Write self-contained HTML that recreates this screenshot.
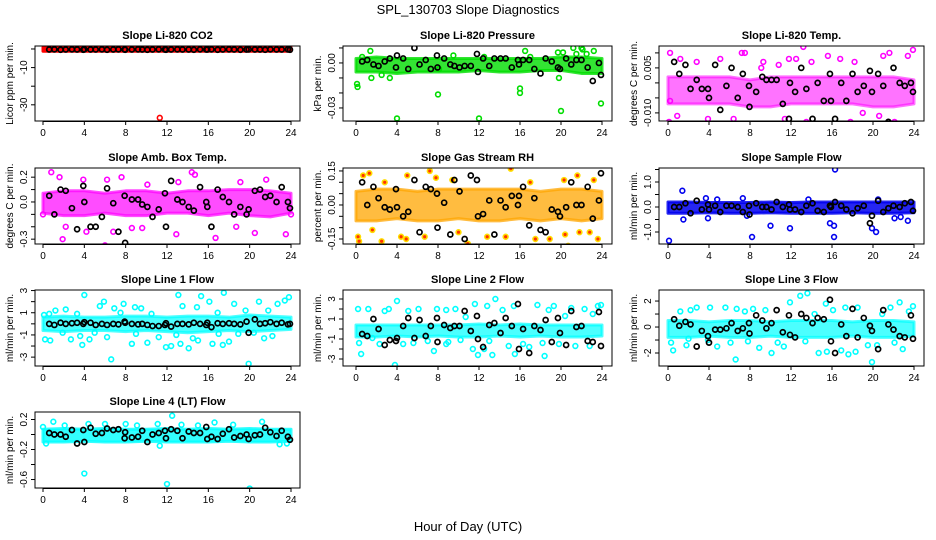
<!DOCTYPE html>
<html><head><meta charset="utf-8">
<style>
html,body{margin:0;padding:0;background:#fff;}
svg{display:block;font-family:"Liberation Sans",Arial,sans-serif;}
</style></head>
<body>
<svg id="chart" width="936" height="540" viewBox="0 0 936 540" xmlns="http://www.w3.org/2000/svg">
<defs>
<pattern id="tex" width="4" height="4" patternUnits="userSpaceOnUse"><rect width="4" height="4" fill="#fff"/><rect width="3" height="3" fill="#000"/></pattern>
</defs>
<text x="468" y="14" text-anchor="middle" font-size="13">SPL_130703  Slope Diagnostics</text>
<text x="468" y="531" text-anchor="middle" font-size="13">Hour of Day (UTC)</text>
</svg>
<script>
// shared x data
const xTicks = [0,4,8,12,16,20,24];
const bandHours = [0,2,4,6,8,10,12,14,16,18,20,22,24];
const blackHours = [0.6,1.1,1.7,2.2,2.8,3.3,3.9,4.0,4.6,5.1,5.7,6.2,6.8,7.3,7.9,7.95,8.6,9.2,9.6,10.1,10.6,11.2,11.8,11.9,12.4,13.0,13.5,14.1,14.6,15.2,15.8,15.9,16.3,16.9,17.4,18.0,18.5,19.1,19.7,19.9,20.5,21.0,21.5,22.0,22.6,23.1,23.7,23.9];

// panel titles / y labels
const panelTitles = ["Slope Li-820 CO2","Slope Li-820 Pressure","Slope Li-820 Temp.","Slope Amb. Box Temp.","Slope Gas Stream RH","Slope Sample Flow","Slope Line 1 Flow","Slope Line 2 Flow","Slope Line 3 Flow","Slope Line 4 (LT) Flow"];
const yTitles = ["Licor ppm per min.","kPa per min.","degrees C per min.","degrees C per min.","percent per min.","ml/min per min.","ml/min per min.","ml/min per min.","ml/min per min.","ml/min per min."];
const seriesColors = ["#ff0000","#00dd00","#ff00ff","#ff00ff","#ffa500","#0000ee","#00ffff","#00ffff","#00ffff","#00ffff"];
const bandOpacity = [1,0.8,0.55,0.7,0.75,0.85,0.7,0.7,0.7,0.8];

// y ticks & labels
const yTicks = [[0,-10,-20,-30],[0.01,0,-0.01,-0.02,-0.03],[0.01,0.005,0,-0.005,-0.01],[0.2,0.1,0,-0.1,-0.2,-0.3],[0.15,0.1,0.05,0,-0.05,-0.1,-0.15],[1.5,1,0.5,0,-0.5,-1],[3,2,1,0,-1,-2,-3],[3,2,1,0,-1,-2,-3],[2,1,0,-1,-2],[0.2,0,-0.2,-0.4,-0.6]];
const yTickLabels = [["","-10","","-30"],["","0.00","","","-0.03"],["","0.005","","","-0.010"],["0.2","","0.0","","","-0.3"],["0.15","","","0.00","","","-0.15"],["","1.0","","0.0","","-1.0"],["3","","1","","-1","","-3"],["3","","1","","-1","","-3"],["2","","0","","-2"],["0.2","","-0.2","","-0.6"]];
const yDomains = [[-38.7,1.6],[-0.0387,0.0113],[-0.0127,0.0123],[-0.339,0.274],[-0.172,0.163],[-1.48,1.56],[-3.8,3.05],[-3.7,3.9],[-3.0,2.85],[-0.713,0.3]];

// dense band envelopes (at bandHours)
const bandLow = [
 [-1.2,-1.2,-1.2,-1.2,-1.2,-1.2,-1.2,-1.2,-1.2,-1.2,-1.2,-1.2,-1.2],
 [-.006,-.006,-.007,-.006,-.006,-.006,-.005,-.006,-.006,-.005,-.005,-.007,-.007],
 [-.007,-.007,-.007,-.007,-.008,-.008,-.007,-.007,-.007,-.007,-.008,-.008,-.007],
 [-.09,-.11,-.11,-.09,-.11,-.11,-.09,-.09,-.11,-.09,-.11,-.12,-.09],
 [-.07,-.07,-.06,-.07,-.07,-.06,-.07,-.07,-.06,-.07,-.06,-.07,-.06],
 [-.25,-.25,-.23,-.25,-.25,-.23,-.25,-.25,-.25,-.23,-.25,-.25,-.23],
 [-.6,-.7,-.6,-.6,-.7,-.6,-.7,-.8,-.7,-.6,-.7,-.6,-.5],
 [-.8,-.8,-.7,-.8,-.7,-.8,-.8,-.7,-.8,-.7,-.8,-.8,-.7],
 [-.8,-.8,-.7,-.8,-.8,-.7,-.8,-.8,-.8,-.7,-.8,-.8,-.7],
 [-.1,-.1,-.09,-.1,-.1,-.09,-.1,-.1,-.1,-.09,-.1,-.1,-.09]];
const bandHigh = [
 [0.8,0.8,0.8,0.8,0.8,0.8,0.8,0.8,0.8,0.8,0.8,0.8,0.8],
 [.003,.004,.003,.003,.003,.003,.003,.003,.003,.003,.004,.004,.003],
 [.002,.002,.002,.002,.001,.002,.002,.002,.002,.002,.002,.002,.001],
 [.07,.09,.09,.07,.09,.09,.07,.09,.09,.1,.1,.09,.07],
 [.06,.07,.07,.06,.07,.07,.07,.07,.07,.06,.07,.07,.06],
 [.2,.2,.18,.18,.18,.2,.18,.2,.2,.2,.2,.2,.2],
 [.6,.7,.6,.6,.7,.7,.6,.7,.7,.6,.8,.7,.6],
 [.4,.4,.4,.4,.4,.4,.5,.4,.5,.4,.4,.4,.4],
 [.5,.5,.4,.5,.5,.4,.5,.5,.5,.4,.5,.5,.4],
 [.07,.08,.07,.08,.07,.07,.08,.07,.08,.07,.08,.07,.07]];

// colored outliers
const outX = [
 [11.3],
 [0.1,0.15,1.4,1.5,3.3,4.0,8.0,8.1,12.0,16.0,16.0,16.5,17.0,19.7,19.8,20.0,20.2,21.2,22.0,22.1,23.2,23.9,0.6,12.5,21.5,22.5,2.5,9.5],
 [0.1,0.2,0.2,0.9,1.2,2.8,3.9,5.1,5.6,5.9,6.4,7.2,7.5,9.3,11.4,11.8,12.2,12.5,13.2,13.5,14.8,15.6,16.8,17.8,19.0,20.6,21.0,21.6,22.1,23.1,23.4,23.9,9.1,10.8,14.0,18.2],
 [0.8,1.6,1.9,2.2,3.9,4.2,6.0,6.2,6.8,7.6,8.6,9.6,12.9,14.4,14.7,16.7,18.7,20.5,21.2,21.6,23.5,24.0,0.0,10.1,13.1,19.1],
 [0.2,0.3,0.7,1.3,1.6,2.5,2.8,4.4,4.9,5.0,6.7,7.2,7.8,9.4,10.0,10.9,12.8,14.6,15.1,17.0,17.5,18.9,20.3,20.4,21.6,21.8,22.8,23.6,23.2,20.7],
 [0.1,1.4,1.5,3.9,7.7,8.2,10.0,11.9,15.8,16.2,16.2,16.3,19.9,20.3,22.1,22.7,23.4,7.3,4.8,3.7,20.5,13.7],
 [0.1,0.2,0.6,0.7,1.2,1.9,2.2,2.7,3.3,3.6,3.8,4.0,4.5,5.0,5.5,5.9,6.2,6.6,6.9,7.5,7.8,8.6,8.9,9.5,10.1,10.5,11.2,11.9,12.4,13.1,13.3,13.5,14.1,14.5,14.9,15.3,16.1,16.4,16.9,17.4,17.5,18.0,18.5,18.9,19.6,19.9,20.4,20.9,21.4,21.8,22.2,22.7,23.4,23.8,9.0,12.9,15.0,17.0],
 [0.2,0.3,0.5,1.2,1.6,2.3,2.8,3.2,3.8,4.0,4.6,5.1,5.6,6.1,7.0,7.6,7.9,8.8,8.8,9.7,10.2,10.7,11.4,11.6,11.9,12.5,12.8,13.3,13.6,14.3,14.9,15.4,15.5,16.3,16.9,17.7,18.2,18.4,18.8,19.3,19.8,20.4,21.0,21.4,22.3,22.8,23.1,23.6,23.9,13.0,9.0],
 [0.3,0.5,1.2,1.8,2.2,2.8,3.9,4.1,4.8,5.6,6.1,6.6,6.7,7.5,8.3,8.9,9.5,10.1,10.7,11.3,11.9,12.9,13.6,14.3,14.7,15.4,15.5,16.1,16.9,17.3,17.6,18.3,18.5,19.5,19.9,20.4,20.9,21.7,22.1,22.6,22.9,23.5,23.9,13.4,7.8,2.0],
 [0,0.3,1.0,2.1,4.0,4.4,6.0,8.0,11.1,11.3,12.0,12.5,13.4,16.6,18.4,20.0,21.2,22.9,23.6,9.1,15.0]];
const outY = [
 [-37],
 [-.014,-.016,.008,-.010,-.010,-.037,-.021,-.004,-.037,-.017,-.020,.008,.004,.007,-.010,-.032,.007,.010,.010,.009,.008,-.027,.004,.004,.006,.006,-.008,.005],
 [-.013,.010,-.006,-.011,.008,.007,-.012,.008,-.015,-.017,-.012,.010,.010,.007,-.012,.008,-.014,.008,.012,-.013,-.016,.009,.008,-.013,-.010,-.011,.009,.010,-.013,-.014,.009,.011,.005,.006,.007,.007],
 [.24,.2,-.3,-.2,.18,-.24,-.35,.18,-.24,.2,-.21,-.21,-.26,.24,.22,-.29,-.2,-.25,.34,.18,-.26,-.1,-.1,.14,.16,.16],
 [-.14,-.16,.13,.14,-.11,-.16,.1,-.14,-.15,.13,-.14,.15,.12,.11,-.12,-.17,-.14,-.14,.16,.1,-.15,-.15,.11,-.13,.13,-.12,-.12,-.15,.11,-.18],
 [-1.35,.65,-.5,-.45,-.35,-1.2,-.75,-.85,-.65,-.75,-1.2,1.5,-.85,-1.0,-.45,-.4,-.55,.35,.3,.35,.3,.3],
 [.8,-1.4,.9,-1.5,1.2,-.8,1.3,-1.4,.9,-1.1,-1.9,2.6,-1.4,-.8,1.6,2.0,-1.2,-3.2,1.4,1.0,1.8,-1.8,1.5,1.4,-1.7,.9,-1.2,-2.1,-2.0,2.6,-1.8,1.6,-2.2,-1.3,1.5,2.5,2.0,-1.8,1.0,-1.9,2.8,-1.6,1.8,-.9,1.2,-3.6,-.8,2.0,-1.3,1.2,-1.1,1.8,2.1,2.4,-.9,-1.0,-1.5,-.9],
 [2.0,-1.4,-2.5,2.0,-.9,-1.5,1.8,2.0,-3.6,2.8,-1.5,1.8,-1.4,2.0,-1.2,-2.2,2.0,1.9,-1.5,2.0,-1.1,1.2,-2.0,2.5,-2.6,-2.0,2.3,-2.6,3.0,1.9,-1.7,2.3,-2.5,-1.5,-1.8,2.4,-1.4,-2.7,1.9,2.3,-1.5,1.3,2.1,-1.7,2.0,-1.7,1.5,2.3,2.4,-1.2,-1.3],
 [-1.2,-1.8,1.2,-1.4,1.3,1.5,-1.0,1.5,-1.5,1.5,-1.2,-2.5,1.4,1.2,1.4,-1.6,1.3,-2.0,-1.2,-1.5,1.9,2.4,2.6,1.0,-2.0,1.8,-1.9,1.3,-1.8,1.5,-2.1,-1.9,1.5,-1.4,-2.7,-1.4,1.0,1.5,-1.2,1.9,-1.7,1.2,1.6,-1.1,-1.1,-.9],
 [.1,-.12,.17,.12,-.52,.14,.14,.14,.14,-.15,-.66,.25,.13,.16,.13,-.72,.17,-.13,-.12,.12,.12]];

// black series values (at blackHours)
const blackY = [
 [-.3,-.2,-.4,-.3,-.2,-.3,-.4,-.2,-.3,-.3,-.2,-.4,-.3,-.2,-.3,-.4,-.3,-.2,-.3,-.4,-.3,-.2,-.3,-.4,-.3,-.2,-.3,-.3,-.4,-.2,-.3,-.3,-.2,-.4,-.3,-.2,-.3,-.4,-.3,-.2,-.3,-.3,-.4,-.2,-.3,-.3,-.2,-.4],
 [.001,.002,-.001,-.002,.001,.003,-.003,.005,.003,-.004,.010,-.001,.002,-.004,.005,-.003,.003,-.001,-.002,-.003,-.002,-.002,.006,-.006,.003,-.002,.003,.003,.003,-.003,.002,-.001,.002,.002,-.004,-.007,.003,.001,-.003,-.004,.003,-.001,.002,.002,-.003,-.012,.000,-.008],
 [.007,.003,.006,-.002,.001,-.002,-.002,-.005,.006,-.009,-.001,.005,-.005,.003,-.001,-.008,-.003,.002,.001,.001,.001,-.007,-.012,.000,-.003,.005,-.002,-.012,.000,-.006,.003,-.006,-.012,.000,-.006,.003,-.003,-.001,.004,-.003,.003,-.001,-.013,.005,.000,-.001,.000,-.003],
 [.05,-.1,.1,.09,-.05,-.22,.13,0,-.2,-.2,-.12,.11,-.01,-.24,.05,-.33,.02,.02,-.02,-.04,-.12,-.06,.07,-.2,.17,.02,0,-.04,-.07,.12,0,-.04,-.2,.1,.04,0,-.1,-.04,-.1,-.06,.09,.1,.04,.05,0,.12,0,-.05],
 [.1,0,.08,.03,-.01,-.02,.07,-.01,-.05,-.03,.11,-.12,.08,.07,.05,-.1,.01,-.13,.11,.06,-.15,.13,.11,-.05,-.04,.02,-.13,.02,-.01,.04,0,.04,.08,-.09,.03,-.11,-.12,-.02,-.03,-.05,-.01,.1,0,0,.08,-.06,.02,.14],
 [0,0,.15,-.25,.25,-.1,.1,-.1,.05,-.2,.05,.05,0,-.2,.05,-.3,.15,0,0,-.1,.2,0,.1,-.1,-.1,-.2,.05,.15,-.15,-.2,.05,0,.2,.05,-.1,-.25,-.05,.05,-.65,-.35,.25,-.2,-.05,.05,0,.15,.2,-.15],
 [0,-.1,.1,0,.05,.1,0,.15,.1,-.1,0,-.1,0,-.05,.2,.1,0,-.05,0,-.1,-.2,-.2,-.1,.05,-.25,0,0,-.05,.1,0,-.1,.1,-.3,.05,0,.05,0,-.05,.2,-.8,.4,0,.05,.15,0,.1,-.05,0],
 [-.5,-.7,1.0,0,-1.6,-1.1,-1.2,-.9,.3,1.1,-.9,.9,-.7,.3,1.1,-1.3,.4,.1,.3,.3,1.8,-.2,1.3,-1.0,-1.8,.4,.6,-.4,1.1,.3,2.5,-2.0,0,-2.4,.3,-.1,.9,-1.3,1.1,-.4,-1.6,1.8,.2,.3,-1.2,-1.3,1.7,-1.7],
 [.6,.1,.4,.2,-1.5,-.3,-.7,-1.2,-.2,-.2,-.1,.3,-.3,-.1,.3,-.5,.9,.5,-.1,.3,1.3,-.4,.9,-.6,-.8,1.0,.7,.3,.7,.6,2.1,-1.1,-2.0,.2,-.7,1.4,-.8,.7,.1,-.3,-1.7,1.3,.2,-.2,-.7,-.8,.9,-.9],
 [.02,0,0,-.03,.06,-.12,.06,-.1,.09,.01,.02,.08,.06,.07,-.05,.03,-.04,-.03,.05,-.1,0,.02,.05,-.05,.07,.05,-.05,.04,.02,.02,.1,-.06,-.03,-.06,.01,.07,-.04,-.02,0,-.06,-.01,0,.09,.03,-.02,.05,-.03,-.07]];

const NS = "http://www.w3.org/2000/svg";
const svg = document.getElementById('chart');
const colBox = [[35,300],[343,612],[659,924]];
const colX0 = [43,356,668];
const colX24 = [291,602,914];
const rowBox = [[46,121],[168,244],[290,366],[412,488]];

function mk(tag, attrs, parent){
  const e = document.createElementNS(NS, tag);
  for (const k in attrs) e.setAttribute(k, attrs[k]);
  (parent||svg).appendChild(e);
  return e;
}

for (let p = 0; p < 10; p++) {
  const c = p % 3, r = Math.floor(p / 3);
  const [L, R] = colBox[c], [T, B] = rowBox[r];
  const xs = h => colX0[c] + (colX24[c] - colX0[c]) * h / 24;
  const [ymin, ymax] = yDomains[p];
  const ys = v => B - (v - ymin) / (ymax - ymin) * (B - T);
  const g = mk('g', {});
  
  
  const clip = mk('clipPath', {id: 'clip' + p}, g);
  mk('rect', {x: L, y: T, width: R - L, height: B - T}, clip);
  const plot = mk('g', {'clip-path': 'url(#clip' + p + ')'}, g);
  
  
  const col = seriesColors[p];
  // dense band
  let pts = bandHours.map((h,i) => xs(h) + ',' + ys(bandHigh[p][i]));
  pts = pts.concat(bandHours.slice().reverse().map((h,i) => xs(h) + ',' + ys(bandLow[p][bandHours.length-1-i])));
  const band = mk('polygon', {points: pts.join(' '), fill: col, 'fill-opacity': bandOpacity[p], stroke: col, 'stroke-opacity': bandOpacity[p], 'stroke-width': 3, 'stroke-linejoin': 'round'}, plot);
  
  
  // outliers
  outX[p].forEach((h, i) => {
    const ci = mk('circle', {cx: xs(h), cy: ys(outY[p][i]), r: 2.4, fill: p===4 ? '#ff3300' : 'none', stroke: p===4 ? '#ffdd00' : col, 'stroke-width': 1.6}, plot);
    
    
  });
  // black series
  blackHours.forEach((h, i) => {
    const ci = mk('circle', {cx: xs(h), cy: ys(blackY[p][i]), r: 2.5, fill: 'none', stroke: '#000', 'stroke-width': 1.7}, plot);
    
    
  });
  // frame
  const fr = mk('rect', {x: L, y: T, width: R - L, height: B - T, fill: 'none', stroke: '#000', 'stroke-width': 1}, g);
  
  
  // title
  const tt = mk('text', {x: (L + R) / 2, y: T - 7, 'text-anchor': 'middle', 'font-size': 11, 'font-weight': 'bold'}, g);
  tt.textContent = panelTitles[p];
  
  
  // x axis
  mk('line', {x1: colX0[c], x2: colX24[c], y1: B + 0.5, y2: B + 0.5, stroke: '#000'}, g);
  xTicks.forEach(t => {
    const x = xs(t);
    mk('line', {x1: x, x2: x, y1: B, y2: B + 4, stroke: '#000'}, g);
    const tl = mk('text', {x: x, y: B + 15, 'text-anchor': 'middle', 'font-size': 10}, g);
    tl.textContent = t;
    
    
  });
  // y axis
  yTicks[p].forEach((t, i) => {
    const y = ys(t);
    mk('line', {x1: L - 4, x2: L, y1: y, y2: y, stroke: '#000'}, g);
    if (yTickLabels[p][i]) {
      const tl = mk('text', {x: 0, y: 0, 'text-anchor': 'middle', 'font-size': 10, transform: 'translate(' + (L - 8) + ',' + y + ') rotate(-90)'}, g);
      tl.textContent = yTickLabels[p][i];
      
      
    }
  });
  const yt = mk('text', {x: 0, y: 0, 'text-anchor': 'middle', 'font-size': 10, transform: 'translate(' + (L - 22) + ',' + ((T + B) / 2) + ') rotate(-90)'}, g);
  yt.textContent = yTitles[p];
  
  
}
</script>
</body></html>
